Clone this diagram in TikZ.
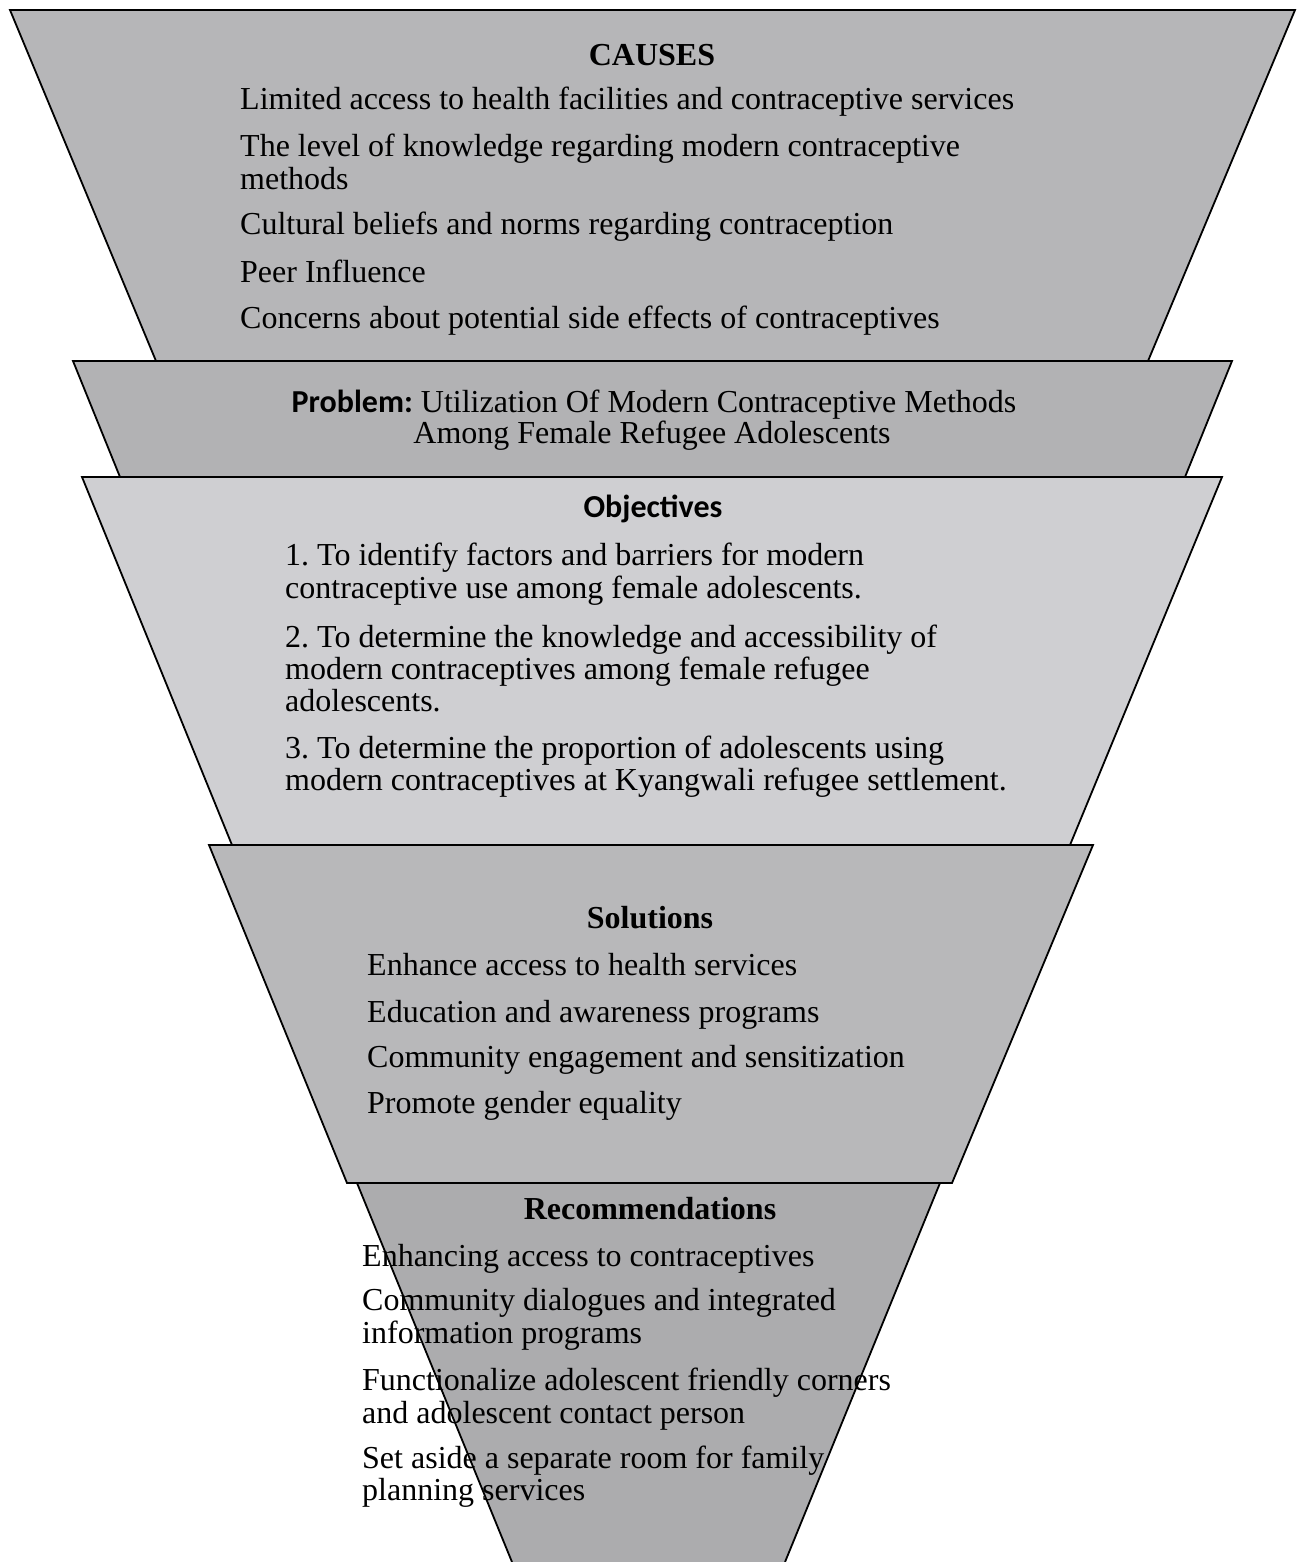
\documentclass[tikz,border=0pt]{standalone}
\usepackage{fontspec}
\setmainfont{Liberation Serif}
\newfontfamily\calib{Carlito}
\frenchspacing
\definecolor{causesfill}{RGB}{182,182,184}
\definecolor{problemfill}{RGB}{178,178,180}
\definecolor{objfill}{RGB}{207,207,210}
\definecolor{solfill}{RGB}{184,184,186}
\definecolor{recfill}{RGB}{172,172,174}
\begin{document}
\begin{tikzpicture}[x=1pt,y=-1pt,
  band/.style={draw=black,line width=1.8pt,line join=miter},
  txt/.style={inner sep=0pt,anchor=base west,font=\fontsize{32}{33}\selectfont},
  ttl/.style={inner sep=0pt,anchor=base,font=\fontsize{32}{33}\selectfont\bfseries},
  ttlsans/.style={inner sep=0pt,anchor=base,font=\fontsize{32}{33}\selectfont\calib\bfseries},
  ctr/.style={inner sep=0pt,anchor=base,font=\fontsize{32}{33}\selectfont}]
\useasboundingbox (0,0) rectangle (1302,1562);

% funnel bands, from the widest at the top to the narrowest at the bottom
\filldraw[band,fill=causesfill] (10,10) -- (1295,10) -- (1148,361) -- (156,361) -- cycle;
\filldraw[band,fill=problemfill] (73,361) -- (1232,361) -- (1185,477) -- (120,477) -- cycle;
\filldraw[band,fill=objfill] (82,477) -- (1222,477) -- (1070,845) -- (232,845) -- cycle;
\filldraw[band,fill=recfill,draw=none] (357,1183) -- (940,1183) -- (785,1562) -- (512,1562) -- cycle;
\draw[band] (512,1562) -- (357,1183) -- (940,1183) -- (785,1562);
\filldraw[band,fill=solfill] (209,845) -- (1093,845) -- (952,1183) -- (347,1183) -- cycle;

% causes
\node[ttl] (causesT) at (652,66) {CAUSES};
\node[txt] (c1) at (240,110) {Limited access to health facilities and contraceptive services};
\node[txt] (c2a) at (240,157) {The level of knowledge regarding modern contraceptive};
\node[txt] (c2b) at (240,190) {methods};
\node[txt] (c3) at (240,235) {Cultural beliefs and norms regarding contraception};
\node[txt] (c4) at (240,282) {Peer Influence};
\node[txt] (c5) at (240,328) {Concerns about potential side effects of contraceptives};

% problem
\node[ctr] (p1) at (654,412) {{\calib\bfseries Problem:} Utilization Of Modern Contraceptive Methods};
\node[ctr] (p2) at (652,443) {Among Female Refugee Adolescents};

% objectives
\node[ttlsans] (objT) at (653,517) {Objectives};
\node[txt] (o1a) at (285,565) {1. To identify factors and barriers for modern};
\node[txt] (o1b) at (285,598) {contraceptive use among female adolescents.};
\node[txt] (o2a) at (285,647) {2. To determine the knowledge and accessibility of};
\node[txt] (o2b) at (285,679) {modern contraceptives among female refugee};
\node[txt] (o2c) at (285,711) {adolescents.};
\node[txt] (o3a) at (285,758) {3. To determine the proportion of adolescents using};
\node[txt] (o3b) at (285,790) {modern contraceptives at Kyangwali refugee settlement.};

% solutions
\node[ttl] (solT) at (650,928) {Solutions};
\node[txt] (s1) at (367,975) {Enhance access to health services};
\node[txt] (s2) at (367,1022) {Education and awareness programs};
\node[txt] (s3) at (367,1067) {Community engagement and sensitization};
\node[txt] (s4) at (367,1113) {Promote gender equality};

% recommendations
\node[ttl] (recT) at (650,1219) {Recommendations};
\node[txt] (r1) at (362,1266) {Enhancing access to contraceptives};
\node[txt] (r2a) at (362,1310) {Community dialogues and integrated};
\node[txt] (r2b) at (362,1343) {information programs};
\node[txt] (r3a) at (362,1390) {Functionalize adolescent friendly corners};
\node[txt] (r3b) at (362,1423) {and adolescent contact person};
\node[txt] (r4a) at (362,1468) {Set aside a separate room for family};
\node[txt] (r4b) at (362,1500) {planning services};
\end{tikzpicture}
\end{document}
